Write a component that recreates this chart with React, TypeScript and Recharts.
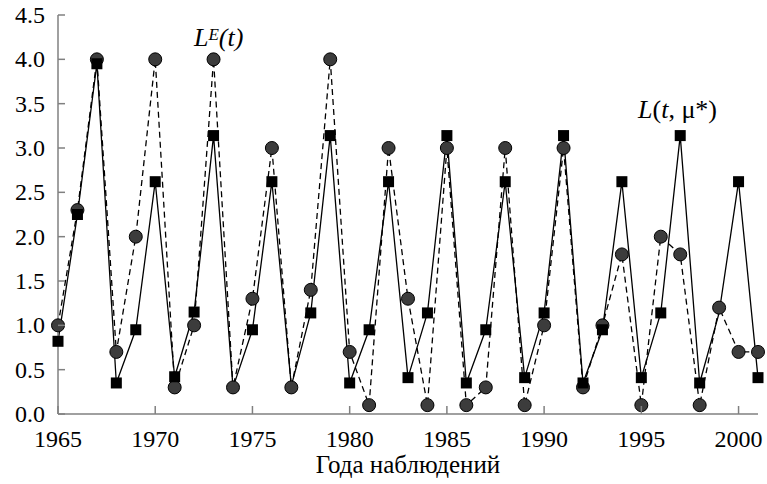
import React from 'react';
import { LineChart, Line, XAxis, YAxis } from 'recharts';

const years = [
  1965, 1966, 1967, 1968, 1969, 1970, 1971, 1972, 1973, 1974, 1975, 1976, 1977,
  1978, 1979, 1980, 1981, 1982, 1983, 1984, 1985, 1986, 1987, 1988, 1989, 1990,
  1991, 1992, 1993, 1994, 1995, 1996, 1997, 1998, 1999, 2000, 2001,
];

// L^E(t) — наблюдаемые значения (кружки, штриховая)
const observed = [
  1.0, 2.3, 4.0, 0.7, 2.0, 4.0, 0.3, 1.0, 4.0, 0.3, 1.3, 3.0, 0.3,
  1.4, 4.0, 0.7, 0.1, 3.0, 1.3, 0.1, 3.0, 0.1, 0.3, 3.0, 0.1, 1.0,
  3.0, 0.3, 1.0, 1.8, 0.1, 2.0, 1.8, 0.1, 1.2, 0.7, 0.7,
];

// L(t, mu*) — модель (квадраты, сплошная)
const model = [
  0.82, 2.25, 3.95, 0.35, 0.95, 2.62, 0.42, 1.15, 3.14, 0.3, 0.95, 2.62, 0.32,
  1.14, 3.14, 0.35, 0.95, 2.62, 0.41, 1.14, 3.14, 0.35, 0.95, 2.62, 0.41, 1.14,
  3.14, 0.35, 0.95, 2.62, 0.41, 1.14, 3.14, 0.35, 1.14, 2.62, 0.41,
];

// годы, где маркер модели не виден на исходном рисунке
const noMarkerYears = [1974, 1977, 1999];

const xTicks = [1965, 1970, 1975, 1980, 1985, 1990, 1995, 2000];
const yTicks = [0, 0.5, 1, 1.5, 2, 2.5, 3, 3.5, 4, 4.5];

const data = years.map((year, i) => ({ year, obs: observed[i], mod: model[i] }));

const font = '"Liberation Serif", "Times New Roman", serif';
const axisColor = '#808080';
const textStyle = { fontFamily: font, fontSize: 24 };

const XTick = (props: any) => {
  const { x, y, payload } = props;
  return (
    <g>
      <line x1={x} x2={x} y1={y} y2={y - 8} stroke={axisColor} strokeWidth={1.5} />
      <text x={x} y={y + 33} textAnchor="middle" style={textStyle} fill="#000">
        {payload.value}
      </text>
    </g>
  );
};

const YTick = (props: any) => {
  const { x, y, payload } = props;
  return (
    <g>
      <line x1={x} x2={x + 7} y1={y} y2={y} stroke={axisColor} strokeWidth={1.5} />
      <text x={x - 13} y={y + 8} textAnchor="end" style={textStyle} fill="#000">
        {Number(payload.value).toFixed(1)}
      </text>
    </g>
  );
};

const CircleDot = (props: any) => {
  const { cx, cy, index } = props;
  return <circle key={`c-${index}`} cx={cx} cy={cy} r={6.5} fill="#3c3c3c" stroke="#000" strokeWidth={1} />;
};

const SquareDot = (props: any) => {
  const { cx, cy, index, payload } = props;
  if (noMarkerYears.includes(payload.year)) return <g key={`s-${index}`} />;
  return <rect key={`s-${index}`} x={cx - 5.5} y={cy - 5.5} width={11} height={11} fill="#000" />;
};

export default function App() {
  return (
    <div style={{ position: 'absolute', left: 0, top: 0, width: 767, height: 484, background: '#fff' }}>
      <LineChart width={767} height={484} data={data} margin={{ top: 15, right: 9, left: 8, bottom: 0 }}>
        <XAxis
          dataKey="year"
          type="number"
          domain={[1965, 2001]}
          ticks={xTicks}
          interval={0}
          tickSize={0}
          tickMargin={0}
          tick={<XTick />}
          axisLine={{ stroke: axisColor, strokeWidth: 1.5 }}
          tickLine={false}
          height={70}
        />
        <YAxis
          type="number"
          domain={[0, 4.5]}
          ticks={yTicks}
          interval={0}
          tickSize={0}
          tickMargin={0}
          tick={<YTick />}
          axisLine={{ stroke: axisColor, strokeWidth: 1.5 }}
          tickLine={false}
          width={50}
        />
        <Line
          dataKey="obs"
          type="linear"
          stroke="#000"
          strokeWidth={1.3}
          strokeDasharray="6 4"
          dot={<CircleDot />}
          activeDot={false}
          isAnimationActive={false}
        />
        <Line
          dataKey="mod"
          type="linear"
          stroke="#000"
          strokeWidth={1.3}
          dot={<SquareDot />}
          activeDot={false}
          isAnimationActive={false}
        />
      </LineChart>
      <div style={{ position: 'absolute', left: 258, top: 451, width: 300, textAlign: 'center', fontFamily: font, fontSize: 25, lineHeight: '28px' }}>
        Года наблюдений
      </div>
      <div style={{ position: 'absolute', left: 194, top: 23, fontFamily: font, fontSize: 26, lineHeight: '30px', fontStyle: 'italic', whiteSpace: 'nowrap' }}>
        L<sup style={{ fontSize: 17, verticalAlign: 'top', position: 'relative', top: -3 }}>E</sup>(t)
      </div>
      <div style={{ position: 'absolute', left: 638, top: 95, fontFamily: font, fontSize: 26, lineHeight: '30px', whiteSpace: 'nowrap' }}>
        <i>L</i>(<i>t</i>, μ*)
      </div>
    </div>
  );
}
